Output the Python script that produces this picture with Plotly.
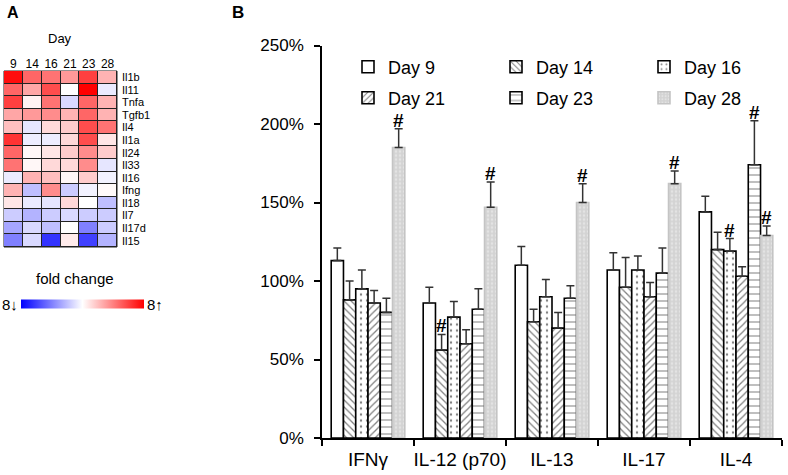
import plotly.graph_objects as go

# ---------------- Panel A data ----------------
hm_days = ["9", "14", "16", "21", "23", "28"]
hm_genes = ["Il1b", "Il11", "Tnfa", "Tgfb1", "Il4", "Il1a", "Il24", "Il33",
            "Il16", "Ifng", "Il18", "Il7", "Il17d", "Il15"]
hm_values = [
    [0.95, 0.60, 0.55, 0.40, 0.75, 0.30],
    [0.60, 0.35, 0.70, 0.00, 1.00, -0.08],
    [0.75, 0.05, 0.55, -0.15, 0.60, 0.30],
    [0.35, 0.40, 0.45, 0.30, 0.60, 0.30],
    [0.25, -0.10, 0.15, 0.20, 0.70, 0.55],
    [0.80, -0.07, -0.07, 0.15, 0.70, 0.10],
    [0.60, 0.03, 0.10, 0.20, 0.45, 0.20],
    [0.55, 0.03, 0.15, 0.15, 0.45, -0.10],
    [-0.08, 0.30, 0.25, 0.03, 0.20, -0.05],
    [0.30, -0.25, 0.45, -0.20, -0.05, 0.02],
    [0.10, -0.08, -0.10, 0.15, 0.00, -0.25],
    [-0.20, -0.30, -0.20, -0.15, -0.20, -0.20],
    [-0.35, -0.15, -0.25, 0.00, -0.50, -0.20],
    [-0.50, -0.15, -0.80, 0.08, -0.75, -0.30],
]

# ---------------- Panel B data ----------------
categories = ["IFNγ", "IL-12 (p70)", "IL-13", "IL-17", "IL-4"]
series_names = ["Day 9", "Day 14", "Day 16", "Day 21", "Day 23", "Day 28"]
day9 = [113, 86, 110, 107, 144]
day14 = [88, 56, 74, 96, 120]
day16 = [95, 77, 90, 107, 119]
day21 = [86, 60, 70, 90, 103]
day23 = [80, 82, 89, 105, 174]
day28 = [185, 147, 150, 162, 129]
err9 = [8, 10, 12, 11, 10]
err14 = [12, 10, 8, 19, 11]
err16 = [12, 10, 11, 9, 8]
err21 = [8, 9, 10, 9, 6]
err23 = [9, 13, 8, 16, 28]
err28 = [12, 16, 12, 8, 6]
hash9 = [False, False, False, False, False]
hash14 = [False, True, False, False, False]
hash16 = [False, False, False, False, True]
hash21 = [False, False, False, False, False]
hash23 = [False, False, False, False, True]
hash28 = [True, True, True, True, True]
y_ticks = [0, 50, 100, 150, 200, 250]
y_ticklabels = ["0%", "50%", "100%", "150%", "200%", "250%"]

values = [day9, day14, day16, day21, day23, day28]
errors = [err9, err14, err16, err21, err23, err28]
hashes = [hash9, hash14, hash16, hash21, hash23, hash28]

styles = [
    dict(color="white", line="black", shape="", fg="black", size=8, sol=0.2),
    dict(color="white", line="black", shape="\\", fg="black", size=5, sol=0.25),
    dict(color="white", line="black", shape=".", fg="black", size=6, sol=0.12),
    dict(color="white", line="black", shape="/", fg="black", size=5, sol=0.25),
    dict(color="white", line="black", shape="-", fg="black", size=7, sol=0.15),
    dict(color="#d3d3d3", line="#c4c4c4", shape=".", fg="#f2f2f2", size=4, sol=0.3),
]

FONT = "Liberation Sans, Arial, sans-serif"
W, H = 788, 475

fig = go.Figure()

# ---- Heatmap ----
fig.add_trace(go.Heatmap(
    z=hm_values, x=hm_days, y=hm_genes,
    zmin=-1, zmax=1,
    colorscale=[[0, "#0000ff"], [0.5, "#ffffff"], [1, "#ff0000"]],
    xgap=1, ygap=1,
    xaxis="x", yaxis="y",
    hoverinfo="skip",
    colorbar=dict(orientation="h", x=82 / W, xanchor="center",
                  y=1 - 304 / H, yanchor="middle",
                  len=123, lenmode="pixels", thickness=9,
                  xpad=0, ypad=0, outlinewidth=0,
                  showticklabels=False, ticks=""),
))

# ---- Bars ----
for i, name in enumerate(series_names):
    s = styles[i]
    fig.add_trace(go.Bar(
        x=categories, y=values[i], name=name,
        xaxis="x2", yaxis="y2",
        legend="legend" if i < 3 else "legend2",
        marker=dict(color=s["color"],
                    line=dict(color=s["line"], width=1.6),
                    pattern=dict(shape=s["shape"], fgcolor=s["fg"],
                                 bgcolor=s["color"], size=s["size"],
                                 solidity=s["sol"], fillmode="overlay")),
        error_y=dict(type="data", array=errors[i],
                     arrayminus=[0] * len(errors[i]), symmetric=False,
                     color="#333333", thickness=1.5, width=4),
    ))

# '#' significance marks
group_px = (782 - 322) / len(categories)
bar_px = group_px * 0.8 / len(series_names)
annotations = []
for i in range(len(series_names)):
    for j, cat in enumerate(categories):
        if hashes[i][j]:
            annotations.append(dict(
                x=cat, y=values[i][j] + errors[i][j], xref="x2", yref="y2",
                text="<b>#</b>", showarrow=False, yanchor="bottom",
                xshift=(i - (len(series_names) - 1) / 2) * bar_px, yshift=-4,
                font=dict(size=19, color="black", family=FONT)))

annotations += [
    dict(x=5 / W, y=1 - 12 / H, xref="paper", yref="paper", text="<b>A</b>",
         showarrow=False, xanchor="left", yanchor="middle",
         font=dict(size=16, family=FONT, color="black")),
    dict(x=238 / W, y=1 - 12 / H, xref="paper", yref="paper", text="<b>B</b>",
         showarrow=False, xanchor="center", yanchor="middle",
         font=dict(size=17, family=FONT, color="black")),
    dict(x=60 / W, y=1 - 39 / H, xref="paper", yref="paper", text="Day",
         showarrow=False, xanchor="center", yanchor="middle",
         font=dict(size=13, family=FONT, color="black")),
    dict(x=75 / W, y=1 - 278 / H, xref="paper", yref="paper", text="fold change",
         showarrow=False, xanchor="center", yanchor="middle",
         font=dict(size=15, family=FONT, color="black")),
    dict(x=20 / W, y=1 - 304 / H, xref="paper", yref="paper", text="8↓",
         showarrow=False, xanchor="right", yanchor="middle",
         font=dict(size=15, family=FONT, color="black")),
    dict(x=145 / W, y=1 - 304 / H, xref="paper", yref="paper", text="8↑",
         showarrow=False, xanchor="left", yanchor="middle",
         font=dict(size=15, family=FONT, color="black")),
]

shapes = [dict(type="rect", xref="x domain", yref="y domain", x0=0, x1=1, y0=0, y1=1,
               fillcolor="#222222", line=dict(color="#222222", width=1), layer="below")]

legend_common = dict(orientation="h", xanchor="left", yanchor="middle",
                     bgcolor="rgba(0,0,0,0)", font=dict(size=18, family=FONT, color="black"),
                     entrywidth=103, entrywidthmode="pixels", itemclick=False,
                     traceorder="normal", itemwidth=30)

fig.update_layout(
    width=W, height=H,
    margin=dict(l=0, r=0, t=0, b=0, autoexpand=False),
    paper_bgcolor="white", plot_bgcolor="white",
    font=dict(family=FONT, color="black"),
    barmode="group", bargap=0.2, bargroupgap=0,
    showlegend=True,
    legend=dict(x=348 / W, y=1 - 67 / H, **legend_common),
    legend2=dict(x=348 / W, y=1 - 98 / H, **legend_common),
    xaxis=dict(domain=[4 / W, 117 / W], side="top", showgrid=False, zeroline=False,
               tickmode="array", tickvals=hm_days, ticktext=hm_days,
               ticks="", tickfont=dict(size=12, family=FONT), showline=False,
               automargin=False),
    yaxis=dict(domain=[1 - 247 / H, 1 - 71 / H], side="right", autorange="reversed",
               tickmode="array", tickvals=hm_genes, ticktext=hm_genes,
               showgrid=False, zeroline=False, ticks="", tickfont=dict(size=11, family=FONT),
               ticklabelstandoff=4, showline=False, automargin=False),
    xaxis2=dict(domain=[322 / W, 782 / W], anchor="y2", showgrid=False, zeroline=False,
                showline=True, linecolor="black", linewidth=1.5, tickangle=0,
                ticks="outside", tickson="boundaries", ticklen=6, tickwidth=1.5,
                tickcolor="black", tickfont=dict(size=19, family=FONT),
                ticklabelstandoff=3, automargin=False),
    yaxis2=dict(domain=[1 - 438 / H, 1 - 45.5 / H], anchor="x2", range=[0, 250],
                tickmode="array", tickvals=y_ticks, ticktext=y_ticklabels,
                showgrid=False, zeroline=False,
                showline=True, linecolor="black", linewidth=1.5,
                ticks="outside", ticklen=6, tickwidth=1.5, tickcolor="black",
                tickfont=dict(size=17, family=FONT), ticklabelstandoff=7,
                automargin=False),
    annotations=annotations,
    shapes=shapes,
)

fig.write_html("out.html", config={"displayModeBar": False},
               post_script="document.body.style.margin='0px';")
